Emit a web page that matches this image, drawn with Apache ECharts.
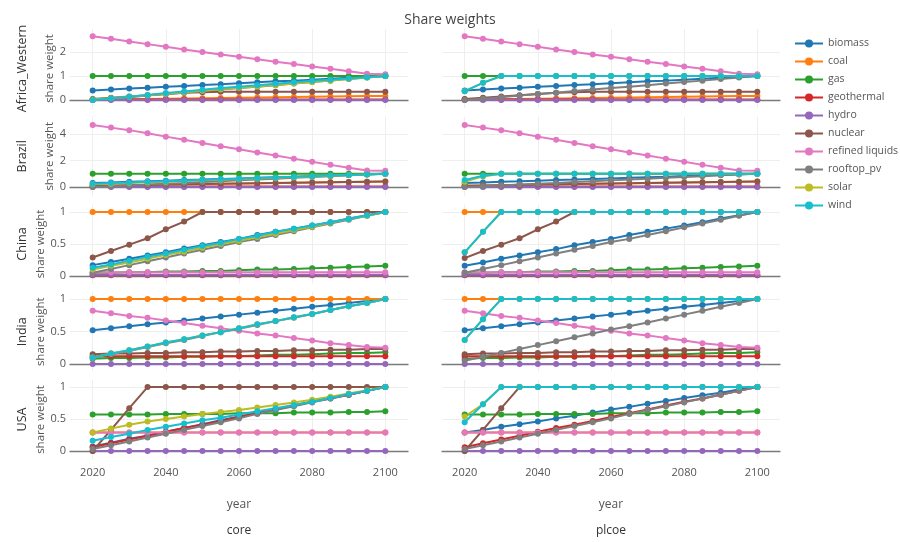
<!DOCTYPE html>
<html><head><meta charset="utf-8">
<script src="https://cdn.jsdelivr.net/npm/echarts@6/dist/echarts.min.js"></script>
<style>html,body{margin:0;padding:0;background:#fff}#c{width:900px;height:542px}</style>
</head><body><div id="c"></div>
<script>
const years = [2020,2025,2030,2035,2040,2045,2050,2055,2060,2065,2070,2075,2080,2085,2090,2095,2100];
const techs = ['biomass','coal','gas','geothermal','hydro','nuclear','refined liquids','rooftop_pv','solar','wind'];
const colors = ['#1f77b4','#ff7f0e','#2ca02c','#d62728','#9467bd','#8c564b','#e377c2','#7f7f7f','#bcbd22','#17becf'];
const regions = ['Africa_Western','Brazil','China','India','USA'];
const scenarios = ['core','plcoe'];
const xTicks = [2020,2040,2060,2080,2100];
const yTicksAfrica = [0,1,2];
const yTicksBrazil = [0,2,4];
const yTicksUnit = [0,0.5,1];

// each list: rows in the order of techs
const afwCore = [
 [0.40,0.44,0.48,0.51,0.55,0.59,0.63,0.66,0.70,0.74,0.78,0.81,0.85,0.89,0.93,0.96,1.00],
 [0.02,0.03,0.04,0.05,0.06,0.07,0.08,0.09,0.10,0.11,0.12,0.13,0.14,0.15,0.16,0.17,0.17],
 [1,1,1,1,1,1,1,1,1,1,1,1,1,1,1,1,1],
 [0.02,0.02,0.02,0.02,0.02,0.02,0.02,0.02,0.02,0.02,0.02,0.02,0.02,0.02,0.02,0.02,0.02],
 [0,0,0,0,0,0,0,0,0,0,0,0,0,0,0,0,0],
 [0.05,0.10,0.15,0.20,0.25,0.30,0.33,0.35,0.35,0.35,0.35,0.35,0.35,0.35,0.35,0.35,0.35],
 [2.66,2.55,2.44,2.33,2.22,2.11,2.00,1.90,1.80,1.70,1.60,1.50,1.40,1.30,1.20,1.10,1.08],
 [0.00,0.06,0.12,0.19,0.25,0.31,0.38,0.44,0.50,0.56,0.62,0.69,0.75,0.81,0.88,0.94,1.00],
 [0.02,0.08,0.14,0.20,0.26,0.33,0.39,0.45,0.51,0.57,0.63,0.69,0.75,0.81,0.88,0.94,1.00],
 [0.00,0.07,0.14,0.21,0.29,0.36,0.43,0.50,0.56,0.62,0.68,0.74,0.80,0.85,0.90,0.95,1.00]
];
const afwPlcoe = [
 [0.40,0.44,0.48,0.51,0.55,0.59,0.63,0.66,0.70,0.74,0.78,0.81,0.85,0.89,0.93,0.96,1.00],
 [0.02,0.03,0.04,0.05,0.06,0.07,0.08,0.09,0.10,0.11,0.12,0.13,0.14,0.15,0.16,0.17,0.17],
 [1,1,1,1,1,1,1,1,1,1,1,1,1,1,1,1,1],
 [0.02,0.02,0.02,0.02,0.02,0.02,0.02,0.02,0.02,0.02,0.02,0.02,0.02,0.02,0.02,0.02,0.02],
 [0,0,0,0,0,0,0,0,0,0,0,0,0,0,0,0,0],
 [0.05,0.10,0.15,0.20,0.25,0.30,0.33,0.35,0.35,0.35,0.35,0.35,0.35,0.35,0.35,0.35,0.35],
 [2.66,2.55,2.44,2.33,2.22,2.11,2.00,1.90,1.80,1.70,1.60,1.50,1.40,1.30,1.20,1.10,1.08],
 [0.00,0.06,0.12,0.19,0.25,0.31,0.38,0.44,0.50,0.56,0.62,0.69,0.75,0.81,0.88,0.94,1.00],
 [0.37,0.72,1,1,1,1,1,1,1,1,1,1,1,1,1,1,1],
 [0.37,0.72,1,1,1,1,1,1,1,1,1,1,1,1,1,1,1]
];
const braCore = [
 [0.30,0.34,0.39,0.43,0.48,0.52,0.56,0.61,0.65,0.69,0.74,0.78,0.83,0.87,0.91,0.96,1.00],
 [0.10,0.12,0.14,0.16,0.18,0.20,0.22,0.24,0.26,0.28,0.30,0.32,0.34,0.36,0.38,0.40,0.42],
 [1,1,1,1,1,1,1,1,1,1,1,1,1,1,1,1,1],
 [0.03,0.03,0.03,0.03,0.03,0.03,0.03,0.03,0.03,0.03,0.03,0.03,0.03,0.03,0.03,0.03,0.03],
 [0,0,0,0,0,0,0,0,0,0,0,0,0,0,0,0,0],
 [0.10,0.12,0.14,0.16,0.18,0.20,0.22,0.24,0.26,0.28,0.30,0.32,0.34,0.36,0.38,0.40,0.42],
 [4.68,4.48,4.29,4.05,3.80,3.56,3.32,3.08,2.84,2.60,2.37,2.14,1.90,1.67,1.45,1.25,1.22],
 [0.00,0.06,0.12,0.19,0.25,0.31,0.38,0.44,0.50,0.56,0.62,0.69,0.75,0.81,0.88,0.94,1.00],
 [0.20,0.25,0.30,0.35,0.40,0.45,0.50,0.55,0.60,0.65,0.70,0.75,0.80,0.85,0.90,0.95,1.00],
 [0.25,0.30,0.34,0.39,0.44,0.48,0.53,0.58,0.62,0.67,0.72,0.77,0.81,0.86,0.91,0.95,1.00]
];
const braPlcoe = [
 [0.30,0.34,0.39,0.43,0.48,0.52,0.56,0.61,0.65,0.69,0.74,0.78,0.83,0.87,0.91,0.96,1.00],
 [0.10,0.12,0.14,0.16,0.18,0.20,0.22,0.24,0.26,0.28,0.30,0.32,0.34,0.36,0.38,0.40,0.42],
 [1,1,1,1,1,1,1,1,1,1,1,1,1,1,1,1,1],
 [0.03,0.03,0.03,0.03,0.03,0.03,0.03,0.03,0.03,0.03,0.03,0.03,0.03,0.03,0.03,0.03,0.03],
 [0,0,0,0,0,0,0,0,0,0,0,0,0,0,0,0,0],
 [0.10,0.12,0.14,0.16,0.18,0.20,0.22,0.24,0.26,0.28,0.30,0.32,0.34,0.36,0.38,0.40,0.42],
 [4.68,4.48,4.29,4.05,3.80,3.56,3.32,3.08,2.84,2.60,2.37,2.14,1.90,1.67,1.45,1.25,1.22],
 [0.00,0.06,0.12,0.19,0.25,0.31,0.38,0.44,0.50,0.56,0.62,0.69,0.75,0.81,0.88,0.94,1.00],
 [0.40,0.80,1,1,1,1,1,1,1,1,1,1,1,1,1,1,1],
 [0.53,0.85,1,1,1,1,1,1,1,1,1,1,1,1,1,1,1]
];
const chnCore = [
 [0.17,0.22,0.27,0.32,0.37,0.43,0.48,0.53,0.58,0.64,0.69,0.74,0.79,0.84,0.90,0.95,1.00],
 [1,1,1,1,1,1,1,1,1,1,1,1,1,1,1,1,1],
 [0.05,0.05,0.06,0.06,0.07,0.07,0.08,0.08,0.09,0.10,0.10,0.11,0.12,0.13,0.14,0.15,0.16],
 [0.01,0.01,0.01,0.01,0.01,0.01,0.01,0.01,0.01,0.01,0.01,0.01,0.01,0.01,0.01,0.01,0.01],
 [0.02,0.02,0.02,0.02,0.02,0.02,0.02,0.02,0.02,0.02,0.02,0.02,0.02,0.02,0.02,0.02,0.02],
 [0.29,0.39,0.49,0.59,0.73,0.85,1,1,1,1,1,1,1,1,1,1,1],
 [0.06,0.06,0.06,0.06,0.06,0.06,0.06,0.06,0.06,0.06,0.06,0.06,0.06,0.06,0.06,0.06,0.06],
 [0.05,0.11,0.17,0.23,0.29,0.35,0.41,0.47,0.53,0.58,0.64,0.70,0.76,0.82,0.88,0.94,1.00],
 [0.10,0.16,0.21,0.27,0.33,0.38,0.44,0.50,0.55,0.61,0.66,0.72,0.77,0.83,0.89,0.94,1.00],
 [0.13,0.18,0.24,0.30,0.35,0.41,0.47,0.52,0.58,0.63,0.69,0.74,0.79,0.84,0.89,0.95,1.00]
];
const chnPlcoe = [
 [0.16,0.21,0.27,0.32,0.37,0.42,0.48,0.53,0.58,0.64,0.69,0.74,0.79,0.84,0.90,0.95,1.00],
 [1,1,1,1,1,1,1,1,1,1,1,1,1,1,1,1,1],
 [0.05,0.05,0.06,0.06,0.07,0.07,0.08,0.08,0.09,0.10,0.10,0.11,0.12,0.13,0.14,0.15,0.16],
 [0.01,0.01,0.01,0.01,0.01,0.01,0.01,0.01,0.01,0.01,0.01,0.01,0.01,0.01,0.01,0.01,0.01],
 [0.02,0.02,0.02,0.02,0.02,0.02,0.02,0.02,0.02,0.02,0.02,0.02,0.02,0.02,0.02,0.02,0.02],
 [0.28,0.39,0.49,0.59,0.73,0.85,1,1,1,1,1,1,1,1,1,1,1],
 [0.06,0.06,0.06,0.06,0.06,0.06,0.06,0.06,0.06,0.06,0.06,0.06,0.06,0.06,0.06,0.06,0.06],
 [0.05,0.11,0.17,0.23,0.29,0.35,0.41,0.47,0.53,0.58,0.64,0.70,0.76,0.82,0.88,0.94,1.00],
 [0.37,0.69,1,1,1,1,1,1,1,1,1,1,1,1,1,1,1],
 [0.37,0.69,1,1,1,1,1,1,1,1,1,1,1,1,1,1,1]
];
const indCore = [
 [0.52,0.55,0.58,0.61,0.64,0.67,0.70,0.73,0.76,0.79,0.82,0.85,0.88,0.91,0.94,0.97,1.00],
 [1,1,1,1,1,1,1,1,1,1,1,1,1,1,1,1,1],
 [0.08,0.09,0.09,0.10,0.10,0.11,0.11,0.12,0.12,0.13,0.14,0.14,0.15,0.16,0.17,0.17,0.18],
 [0.12,0.12,0.12,0.12,0.12,0.12,0.12,0.12,0.12,0.12,0.12,0.12,0.12,0.12,0.12,0.12,0.12],
 [0,0,0,0,0,0,0,0,0,0,0,0,0,0,0,0,0],
 [0.15,0.16,0.16,0.17,0.17,0.18,0.18,0.19,0.19,0.20,0.20,0.21,0.21,0.22,0.22,0.23,0.23],
 [0.82,0.78,0.74,0.71,0.67,0.63,0.59,0.55,0.51,0.47,0.44,0.40,0.36,0.32,0.29,0.26,0.25],
 [0.09,0.15,0.20,0.26,0.32,0.37,0.43,0.49,0.54,0.60,0.66,0.71,0.77,0.83,0.89,0.94,1.00],
 [0.10,0.16,0.21,0.27,0.33,0.38,0.44,0.49,0.55,0.61,0.66,0.72,0.77,0.83,0.89,0.94,1.00],
 [0.10,0.16,0.21,0.27,0.33,0.38,0.44,0.49,0.55,0.61,0.66,0.72,0.77,0.83,0.89,0.94,1.00]
];
const indPlcoe = [
 [0.52,0.55,0.58,0.61,0.64,0.67,0.70,0.73,0.76,0.79,0.82,0.85,0.88,0.91,0.94,0.97,1.00],
 [1,1,1,1,1,1,1,1,1,1,1,1,1,1,1,1,1],
 [0.08,0.09,0.09,0.10,0.10,0.11,0.11,0.12,0.12,0.13,0.14,0.14,0.15,0.16,0.17,0.17,0.18],
 [0.12,0.12,0.12,0.12,0.12,0.12,0.12,0.12,0.12,0.12,0.12,0.12,0.12,0.12,0.12,0.12,0.12],
 [0,0,0,0,0,0,0,0,0,0,0,0,0,0,0,0,0],
 [0.15,0.16,0.16,0.17,0.17,0.18,0.18,0.19,0.19,0.20,0.20,0.21,0.21,0.22,0.22,0.23,0.23],
 [0.82,0.78,0.74,0.71,0.67,0.63,0.59,0.55,0.51,0.47,0.44,0.40,0.36,0.32,0.29,0.26,0.25],
 [0.05,0.11,0.17,0.23,0.29,0.35,0.41,0.47,0.53,0.58,0.64,0.70,0.76,0.82,0.88,0.94,1.00],
 [0.37,0.69,1,1,1,1,1,1,1,1,1,1,1,1,1,1,1],
 [0.37,0.69,1,1,1,1,1,1,1,1,1,1,1,1,1,1,1]
];
const usaCore = [
 [0.07,0.13,0.19,0.24,0.30,0.36,0.42,0.48,0.54,0.59,0.65,0.71,0.77,0.83,0.88,0.94,1.00],
 [0.29,0.29,0.29,0.29,0.29,0.29,0.29,0.29,0.29,0.29,0.29,0.29,0.29,0.29,0.29,0.29,0.29],
 [0.57,0.57,0.57,0.57,0.58,0.58,0.58,0.58,0.59,0.59,0.59,0.60,0.60,0.60,0.61,0.61,0.62],
 [0.06,0.12,0.18,0.24,0.30,0.36,0.41,0.47,0.53,0.59,0.65,0.71,0.77,0.82,0.88,0.94,1.00],
 [0,0,0,0,0,0,0,0,0,0,0,0,0,0,0,0,0],
 [0,0.33,0.67,1,1,1,1,1,1,1,1,1,1,1,1,1,1],
 [0.29,0.29,0.29,0.29,0.29,0.29,0.29,0.29,0.29,0.29,0.29,0.29,0.29,0.29,0.29,0.29,0.29],
 [0.03,0.09,0.15,0.21,0.27,0.33,0.39,0.45,0.51,0.58,0.64,0.70,0.76,0.82,0.88,0.94,1.00],
 [0.29,0.35,0.41,0.46,0.50,0.54,0.58,0.61,0.64,0.68,0.72,0.76,0.80,0.85,0.90,0.95,1.00],
 [0.16,0.22,0.27,0.33,0.38,0.43,0.48,0.52,0.57,0.62,0.67,0.72,0.77,0.83,0.89,0.94,1.00]
];
const usaPlcoe = [
 [0.29,0.33,0.38,0.42,0.46,0.51,0.55,0.60,0.65,0.69,0.74,0.78,0.83,0.87,0.91,0.96,1.00],
 [0.29,0.29,0.29,0.29,0.29,0.29,0.29,0.29,0.29,0.29,0.29,0.29,0.29,0.29,0.29,0.29,0.29],
 [0.57,0.57,0.57,0.57,0.58,0.58,0.58,0.58,0.59,0.59,0.59,0.60,0.60,0.60,0.61,0.61,0.62],
 [0.06,0.12,0.18,0.24,0.30,0.36,0.41,0.47,0.53,0.59,0.65,0.71,0.77,0.82,0.88,0.94,1.00],
 [0,0,0,0,0,0,0,0,0,0,0,0,0,0,0,0,0],
 [0,0.33,0.67,1,1,1,1,1,1,1,1,1,1,1,1,1,1],
 [0.29,0.29,0.29,0.29,0.29,0.29,0.29,0.29,0.29,0.29,0.29,0.29,0.29,0.29,0.29,0.29,0.29],
 [0.03,0.09,0.15,0.21,0.27,0.33,0.39,0.45,0.51,0.58,0.64,0.70,0.76,0.82,0.88,0.94,1.00],
 [0.54,0.73,1,1,1,1,1,1,1,1,1,1,1,1,1,1,1],
 [0.45,0.73,1,1,1,1,1,1,1,1,1,1,1,1,1,1,1]
];

const panelData = [[afwCore, afwPlcoe],[braCore, braPlcoe],[chnCore, chnPlcoe],[indCore, indPlcoe],[usaCore, usaPlcoe]];
const rowTicks = [yTicksAfrica, yTicksBrazil, yTicksUnit, yTicksUnit, yTicksUnit];

// layout
const rowTop = [29, 116.75, 204.5, 292.25, 380];
const rowH = 79;
const colLeft = [70, 442];
const colW = 338;
const yRange = [[-0.33,2.96],[-0.66,5.3],[-0.117,1.117],[-0.113,1.105],[-0.125,1.11]];
const xRange = [2013.8, 2106.2];
const FONT = '"Open Sans", "Noto Sans", sans-serif';

const grids = [], xAxes = [], yAxes = [], series = [], graphics = [];
let idx = 0;
for (let r = 0; r < 5; r++) {
  for (let c = 0; c < 2; c++) {
    grids.push({left: colLeft[c], top: rowTop[r], width: colW, height: rowH, containLabel: false});
    const bottom = r === 4;
    xAxes.push({
      gridIndex: idx, type: 'value', min: xRange[0], max: xRange[1],
      axisLine: {show: true, onZero: true, lineStyle: {color: '#7a7a7a', width: 1.3}},
      axisTick: {show: false, customValues: xTicks},
      axisLabel: {show: bottom, customValues: xTicks, formatter: v => String(v), color: '#555', fontSize: 11, fontFamily: FONT, margin: 8},
      splitLine: {show: true, lineStyle: {color: '#eeeeee', width: 1}},
      name: bottom ? 'year' : '', nameLocation: 'middle', nameGap: 40,
      nameTextStyle: {color: '#555', fontSize: 12, fontFamily: FONT}
    });
    yAxes.push({
      gridIndex: idx, type: 'value', min: yRange[r][0], max: yRange[r][1],
      axisLine: {show: false},
      axisTick: {show: false, customValues: rowTicks[r]},
      axisLabel: {show: c === 0, customValues: rowTicks[r], formatter: v => String(v), color: '#555', fontSize: 11, fontFamily: FONT, margin: 4},
      splitLine: {show: true, lineStyle: {color: '#eeeeee', width: 1}},
      name: c === 0 ? 'share weight' : '', nameLocation: 'middle', nameGap: 10,
      nameTextStyle: {color: '#555', fontSize: 11.5, fontFamily: FONT}
    });
    const d = panelData[r][c];
    for (let t = 0; t < techs.length; t++) {
      series.push({
        type: 'line', name: techs[t], xAxisIndex: idx, yAxisIndex: idx,
        data: years.map((y, i) => [y, d[t][i]]),
        symbol: 'circle', symbolSize: 6, showSymbol: true,
        lineStyle: {width: 2, color: colors[t]}, itemStyle: {color: colors[t]},
        emphasis: {disabled: true}, animation: false
      });
    }
    idx++;
  }
  graphics.push({
    type: 'text', x: 22, y: rowTop[r] + rowH / 2, rotation: Math.PI / 2,
    style: {text: regions[r], fill: '#333', font: '12.5px ' + FONT, align: 'center', verticalAlign: 'middle'}
  });
}
for (let c = 0; c < 2; c++) {
  graphics.push({
    type: 'text', x: colLeft[c] + colW / 2, y: 531,
    style: {text: scenarios[c], fill: '#333', font: '12px ' + FONT, align: 'center', verticalAlign: 'middle'}
  });
}

const chart = echarts.init(document.getElementById('c'), null, {renderer: 'canvas'});
chart.setOption({
  backgroundColor: '#fff',
  animation: false,
  title: {text: 'Share weights', left: 'center', top: 8, textStyle: {color: '#444', fontSize: 14, fontWeight: 'normal', fontFamily: FONT}},
  legend: {
    data: techs, orient: 'vertical', left: 789, top: 33, itemWidth: 28, itemHeight: 10, itemGap: 7,
    textStyle: {color: '#555', fontSize: 10.5, fontFamily: FONT}
  },
  grid: grids, xAxis: xAxes, yAxis: yAxes, series: series, graphic: graphics
});
</script></body></html>
